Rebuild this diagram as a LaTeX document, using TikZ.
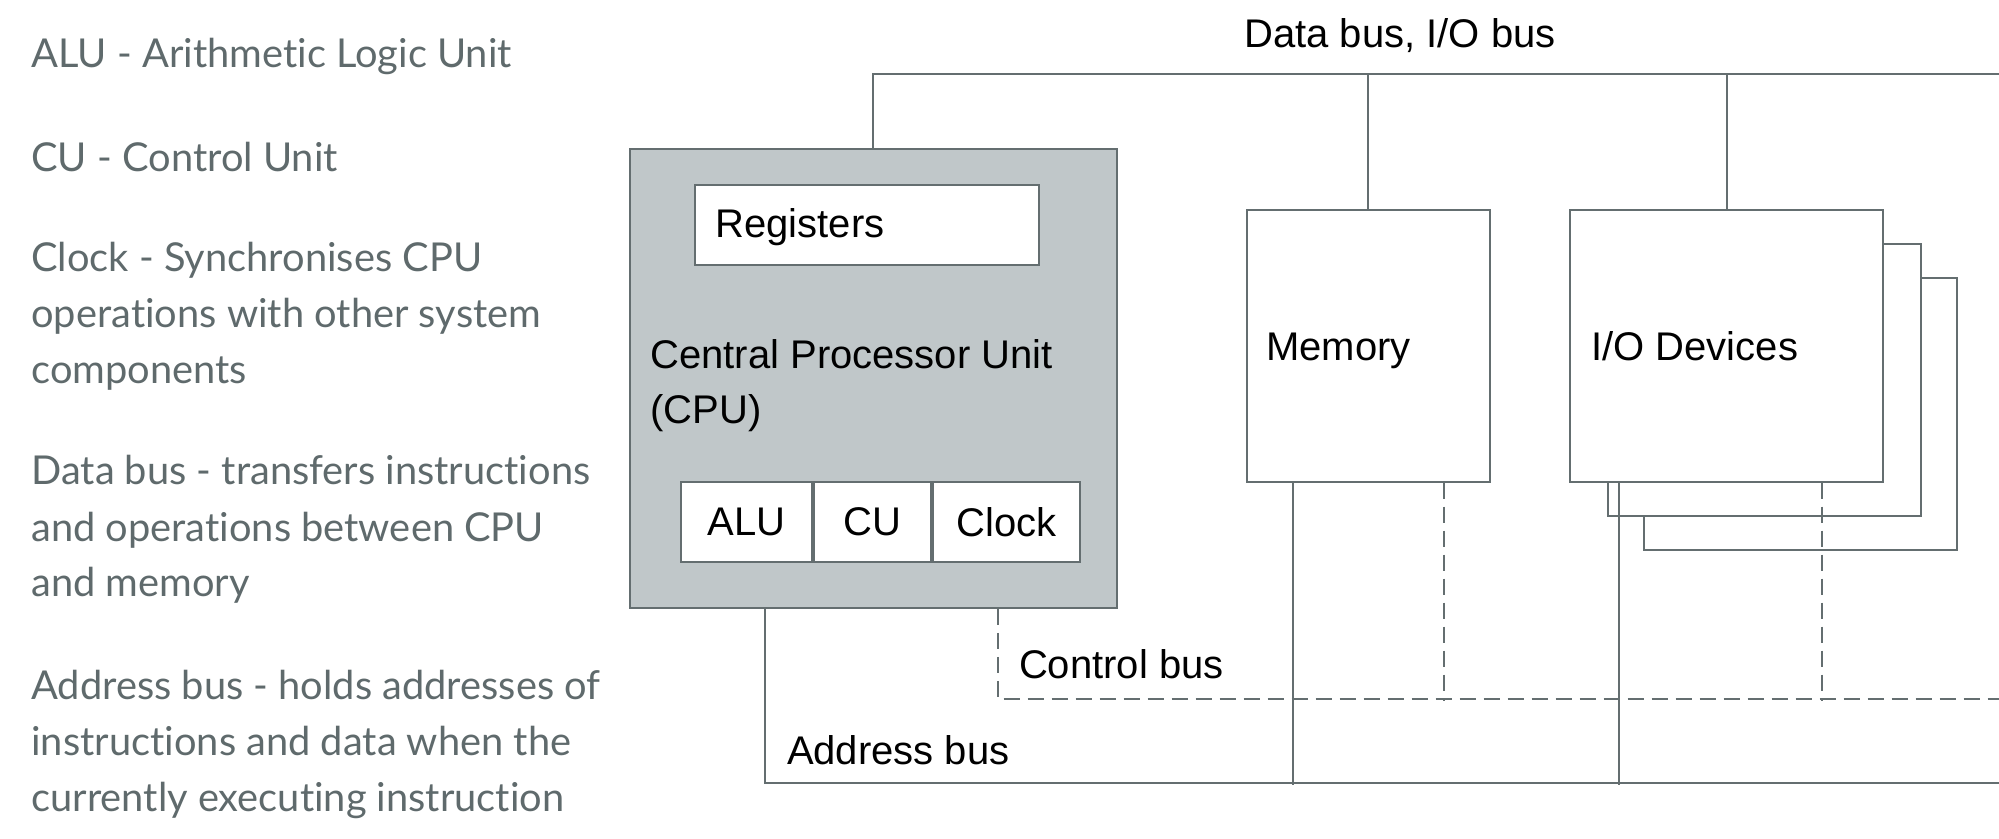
\documentclass[tikz,border=0pt]{standalone}
\usepackage{fontspec}
\setmainfont{Liberation Sans}
\newfontfamily\latofont{Lato}[Ligatures=NoCommon]
\usetikzlibrary{positioning,calc}

\definecolor{linegray}{HTML}{646E70}
\definecolor{cpugray}{HTML}{C0C7C9}
\definecolor{notegray}{HTML}{5F6A6C}

\tikzset{
  box/.style={draw=linegray, line width=1pt, fill=white, inner sep=0pt},
  bus/.style={draw=linegray, line width=1pt},
  ctrl/.style={bus, dash pattern=on 8pt off 4pt},
  txt/.style={anchor=base west, inner sep=0pt, align=left,
    font=\fontsize{20}{27.5}\selectfont},
  note/.style={anchor=base west, inner sep=0pt, align=left, text=notegray,
    font=\latofont\fontsize{19.9}{28}\selectfont},
}

\begin{document}
\begin{tikzpicture}[x=0.5pt, y=-0.5pt]
  \useasboundingbox (0,0) rectangle (1999,839);

  %% notes on the left (base = last line)
  \node[note] (nalu) at (31,68) {ALU - Arithmetic Logic Unit};
  \node[note] (ncu) at (31,172) {CU - Control Unit};
  \node[note] (nclock) at (31,384) {Clock - Synchronises CPU\\operations with other system\\components};
  \node[note] (ndata) at (31,597) {Data bus - transfers instructions\\and operations between CPU\\and memory};
  \node[note] (naddr) at (31,811) {Address bus - holds addresses of\\instructions and data when the\\currently executing instruction};

  %% cpu
  \node[box, fill=cpugray, anchor=north west, minimum width=243.5pt, minimum height=229.5pt] (cpu) at (628.5,148) {};
  \node[box, anchor=north west, minimum width=172.25pt, minimum height=40.2pt] (regs) at (693.5,183.6) {};
  \node[box, anchor=north west, minimum width=65.75pt, minimum height=40.2pt, font=\fontsize{20}{24}\selectfont] (alu) at (679.5,480.6) {ALU};
  \node[box, right=0pt of alu, minimum width=58.5pt, minimum height=40.2pt, font=\fontsize{20}{24}\selectfont] (cu) {CU};
  \node[box, right=0pt of cu, minimum width=73.5pt, minimum height=40.2pt, font=\fontsize{20}{24}\selectfont] (clock) {Clock};

  %% memory and i/o devices
  \node[box, anchor=north west, minimum width=121.7pt, minimum height=135.8pt] (mem) at (1245.6,209) {};
  \node[box, anchor=north west, minimum width=156.5pt, minimum height=135.8pt] (io3) at (1643,277) {};
  \node[box, anchor=north west, minimum width=156.5pt, minimum height=135.8pt] (io2) at (1607,243) {};
  \node[box, anchor=north west, minimum width=156.5pt, minimum height=135.8pt] (io) at (1569,209) {};

  %% bus ends
  \coordinate (dbus) at (1999,74);
  \coordinate (cbus) at (1999,699);
  \coordinate (abus) at (1999,783);

  %% data bus
  \draw[bus] (cpu.north) |- (dbus);
  \draw[bus] (mem.north) -- (mem.north |- dbus);
  \draw[bus] (io.north) -- (io.north |- dbus);

  %% address bus
  \draw[bus] ($(cpu.south west)!0.28!(cpu.south east)$) |- (abus);
  \draw[bus] ($(mem.south west)!0.195!(mem.south east)$) -- +(0,302.4);
  \draw[bus] ($(io.south west)!0.16!(io.south east)$) -- +(0,302.4);

  %% control bus
  \draw[ctrl] ($(cpu.south west)!0.755!(cpu.south east)$) |- (cbus);
  \draw[ctrl] ($(mem.south west)!0.807!(mem.south east)$) -- +(0,218.4);
  \draw[ctrl] ($(io.south west)!0.804!(io.south east)$) -- +(0,218.4);

  %% labels
  \node[txt] (ldbus) at (1244,48) {Data bus, I/O bus};
  \node[txt] (lregs) at (715,238) {Registers};
  \node[txt] (lcpu) at (650,424) {Central Processor Unit\\(CPU)};
  \node[txt] (lmem) at (1266,361) {Memory};
  \node[txt] (lio) at (1591,361) {I/O Devices};
  \node[txt] (lcbus) at (1018.6,678) {Control bus};
  \node[txt] (labus) at (786.6,764) {Address bus};
\end{tikzpicture}
\end{document}
